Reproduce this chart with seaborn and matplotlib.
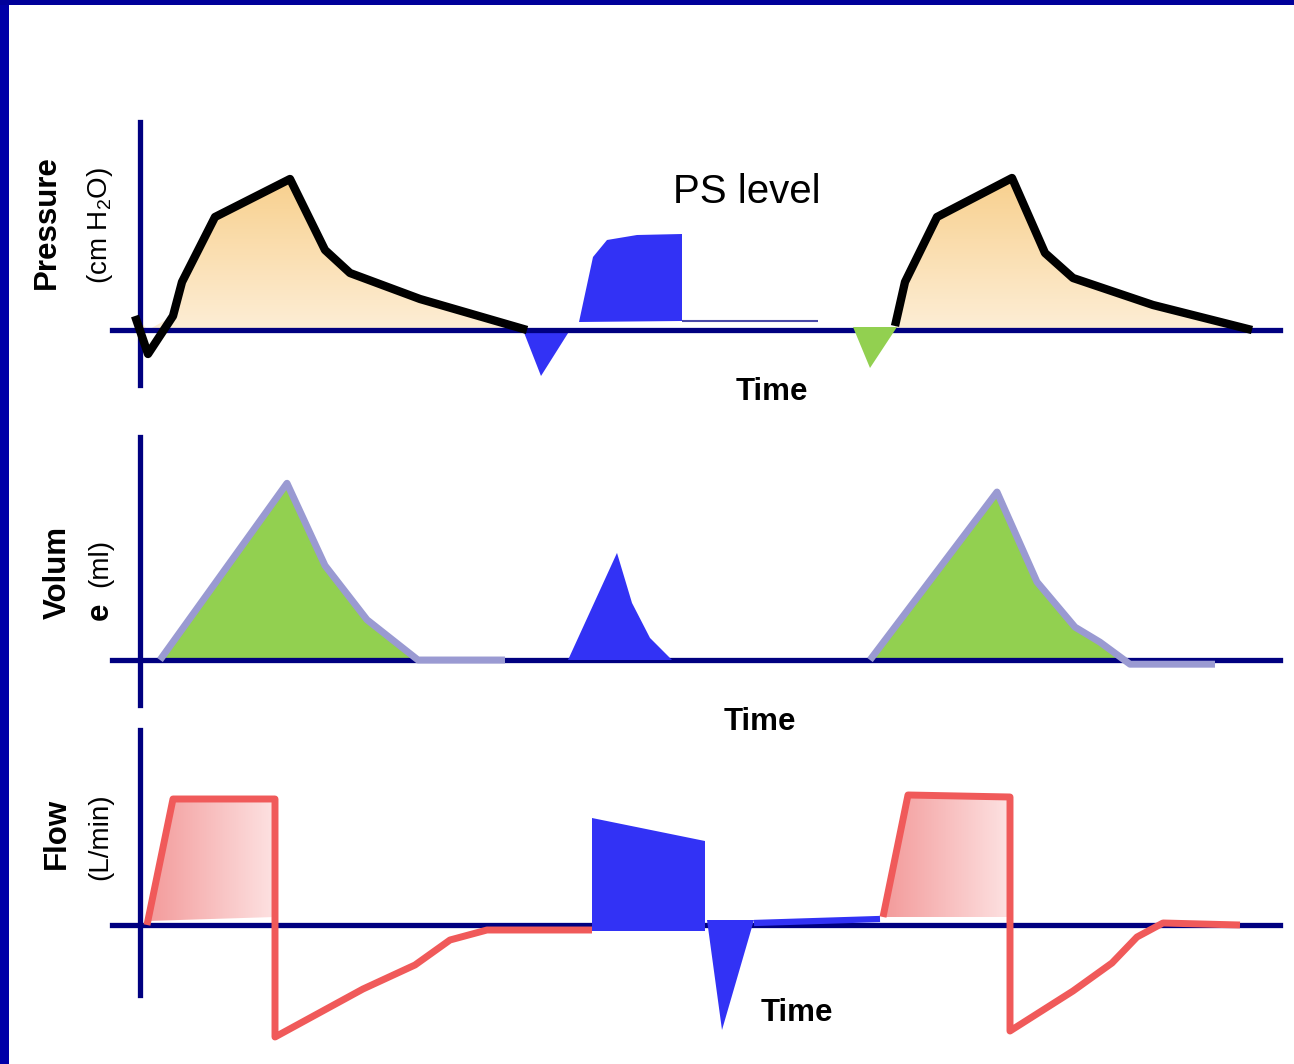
import numpy as np
import matplotlib.pyplot as plt
import seaborn as sns
from matplotlib.colors import LinearSegmentedColormap
from matplotlib.patches import Rectangle

# time axis in s, pressure in cm H2O
p_breath1_t = [-0.05, 0.08, 0.33, 0.42, 0.75, 1.50, 1.85, 2.10, 2.80, 3.87]
p_breath1 = [1.4, -2.4, 1.4, 4.8, 11.3, 15.1, 8.0, 5.7, 3.1, 0.0]
p_trig1_t = [3.83, 4.01, 4.30]
p_trig1 = [0.0, -4.6, 0.0]
p_ps_t = [4.39, 4.53, 4.67, 4.97, 5.42, 5.42]
p_ps = [0.8, 7.3, 9.0, 9.5, 9.6, 0.9]
p_ps_tail_t = [5.42, 6.78]
p_ps_tail = [0.9, 0.9]
p_trig2_t = [7.13, 7.30, 7.57]
p_trig2 = [0.3, -3.8, 0.3]
p_breath2_t = [7.55, 7.65, 7.97, 8.72, 9.05, 9.33, 10.13, 11.12]
p_breath2 = [0.4, 4.8, 11.3, 15.2, 7.7, 5.2, 2.5, 0.0]

# volume in ml
v_breath1_t = [0.20, 1.47, 1.85, 2.27, 2.78, 3.65]
v_breath1 = [0, 505, 270, 115, 0, 0]
v_ps_t = [4.28, 4.77, 4.92, 5.10, 5.32]
v_ps = [0, 306, 163, 63, 0]
v_breath2_t = [7.30, 8.57, 8.97, 9.35, 9.60, 9.90, 10.75]
v_breath2 = [0, 480, 223, 94, 51, -12, -12]

# flow in L/min
f_breath1_t = [0.07, 0.33, 1.35, 1.35, 2.23, 2.75, 3.10, 3.47, 4.52]
f_breath1 = [0, 63, 63, -56, -32, -20, -7.5, -2.5, -2.5]
f_ps_t = [4.52, 5.65, 5.65, 4.52]
f_ps = [53.5, 42, -3, -3]
f_ps_exp_t = [5.67, 5.82, 6.14]
f_ps_exp = [2.5, -52.5, 2.5]
f_base_t = [6.14, 7.40]
f_base = [1, 3]
f_breath2_t = [7.43, 7.68, 8.70, 8.70, 9.33, 9.72, 9.97, 10.23, 11.00]
f_breath2 = [4, 65, 64, -53, -33, -19, -6, 1, 0]
f_fill_floor = 3

NAVY = "#000080"
BLUE = "#3232f5"
GREEN = "#92d050"

sns.set_theme(style="white")
plt.rcParams["font.family"] = ["Liberation Sans", "DejaVu Sans"]
plt.rcParams["mathtext.fontset"] = "custom"
plt.rcParams["mathtext.rm"] = "Liberation Sans"

W, H = 1294, 1064
fig = plt.figure(figsize=(W / 100, H / 100), dpi=100)
fig.patch.set_facecolor("white")


def panel(top, bottom, base, px_per_unit, spine_bottom=None):
    ax = fig.add_axes([112 / W, 1 - bottom / H, 1168 / W, (bottom - top) / H])
    ax.patch.set_alpha(0)
    ax.set_xticks([])
    ax.set_yticks([])
    for s in ["top", "right"]:
        ax.spines[s].set_visible(False)
    for s in ["left", "bottom"]:
        ax.spines[s].set_position(("data", 0))
        ax.spines[s].set_color(NAVY)
        ax.spines[s].set_linewidth(3.8)
    ylim = (-(bottom - base) / px_per_unit, (base - top) / px_per_unit)
    if spine_bottom is not None:
        ax.spines["left"].set_bounds(-(spine_bottom - base) / px_per_unit, ylim[1])
    return ax, ylim


def finish(ax, ylim):
    ax.set_xlim(-0.28, 11.40)
    ax.set_ylim(*ylim)


def trace(ax, t, y, color, lw, z=3):
    sns.lineplot(x=t, y=y, sort=False, estimator=None, color=color, lw=lw,
                 ax=ax, zorder=z, solid_joinstyle="round", solid_capstyle="butt")


def grad_fill(ax, xs, ys, c0, c1, vertical=True):
    poly = ax.fill(xs, ys, facecolor="none", edgecolor="none", zorder=1)[0]
    g = np.linspace(0, 1, 256)
    g = g.reshape(-1, 1) if vertical else g.reshape(1, -1)
    cmap = LinearSegmentedColormap.from_list("g", [c0, c1])
    im = ax.imshow(g, cmap=cmap, origin="lower", aspect="auto", zorder=1,
                   extent=[min(xs), max(xs), min(ys), max(ys)])
    im.set_clip_path(poly)


def hump_poly(t, y):
    t = np.asarray(t, float)
    y = np.clip(np.asarray(y, float), 0, None)
    return np.concatenate([t, t[::-1]]), np.concatenate([y, np.zeros_like(y)])


# pressure
ax1, lim1 = panel(122, 385, 330, 10)
for t, y in [(p_breath1_t, p_breath1), (p_breath2_t, p_breath2)]:
    xs, ys = hump_poly(t, y)
    grad_fill(ax1, xs, ys, "#fdeed6", "#f8d08e")
    trace(ax1, t, y, "black", 6)
ax1.fill(p_trig1_t, p_trig1, color=BLUE, zorder=2, lw=0)
ax1.fill(p_ps_t, p_ps, color=BLUE, zorder=2, lw=0)
trace(ax1, p_ps_tail_t, p_ps_tail, "#4848a8", 1.5, z=2)
ax1.fill(p_trig2_t, p_trig2, color=GREEN, zorder=3, lw=0)
finish(ax1, lim1)

# volume
ax2, lim2 = panel(437, 705, 660, 0.35)
for t, y in [(v_breath1_t, v_breath1), (v_breath2_t, v_breath2)]:
    ax2.fill_between(t, np.clip(y, 0, None), 0, color=GREEN, lw=0, zorder=1)
    trace(ax2, t, y, "#9a9ad2", 5)
ax2.fill(v_ps_t, v_ps, color=BLUE, zorder=3, lw=0)
finish(ax2, lim2)

# flow
ax3, lim3 = panel(730, 1050, 925, 2, spine_bottom=995)
for t, y in [(f_breath1_t, f_breath1), (f_breath2_t, f_breath2)]:
    # inspiratory part of the breath, shaded down to a floor just above zero
    xs = t[:3] + [t[2], t[0]]
    ys = y[:3] + [f_fill_floor + 1, max(y[0], f_fill_floor - 1)]
    grad_fill(ax3, xs, ys, "#f39a9a", "#fde2e2", vertical=False)
    trace(ax3, t, y, "#f05a5a", 5)
ax3.fill(f_ps_t, f_ps, color=BLUE, zorder=3, lw=0)
ax3.fill(f_ps_exp_t, f_ps_exp, color=BLUE, zorder=3, lw=0)
trace(ax3, f_base_t, f_base, BLUE, 4.5)
finish(ax3, lim3)

# labels
bold = dict(fontsize=22.5, fontweight="bold", color="black", ha="center", va="center")
reg = dict(fontsize=20, color="black", ha="center", va="center", rotation=90)
fig.text(772 / W, 1 - 392 / H, "Time", **bold)
fig.text(760 / W, 1 - 722 / H, "Time", **bold)
fig.text(797 / W, 1 - 1013 / H, "Time", **bold)
fig.text(747 / W, 1 - 192 / H, "PS level", fontsize=29, color="black", ha="center", va="center")

fig.text(47 / W, 1 - 222 / H, "Pressure", rotation=90, **bold)
fig.text(100 / W, 1 - 225 / H, "(cm H$_2$O)", **reg)
fig.text(58 / W, 1 - 572 / H, "Volum", rotation=90, **bold)
fig.text(100 / W, 1 - 611 / H, "e", rotation=90, **bold)
fig.text(100 / W, 1 - 563 / H, "(ml)", **reg)
fig.text(57 / W, 1 - 833 / H, "Flow", rotation=90, **bold)
fig.text(100 / W, 1 - 837 / H, "(L/min)", **reg)

# slide frame
fig.add_artist(Rectangle((0, 0), 9 / W, 1, transform=fig.transFigure, color="#0000a8", lw=0))
fig.add_artist(Rectangle((0, 1 - 5 / H), 1, 5 / H, transform=fig.transFigure, color="#00009a", lw=0))

fig.savefig("out.png", dpi=100)
